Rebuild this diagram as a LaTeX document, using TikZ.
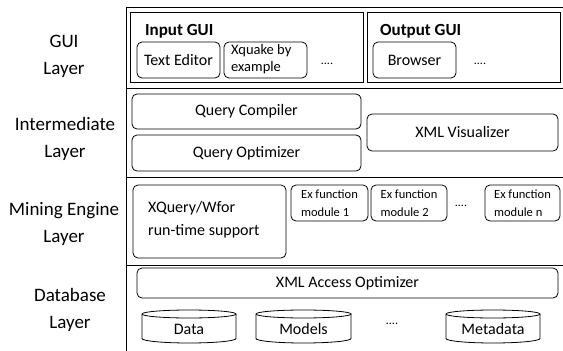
\documentclass[tikz,border=0pt]{standalone}
\usepackage{fontspec}
\setmainfont{Carlito}
\begin{document}
\begin{tikzpicture}[x=1pt,y=-1pt,
  rbox/.style={draw, rounded corners=5pt, line width=0.8pt, inner sep=2pt, font=\fontsize{16}{19}\selectfont},
  sbox/.style={draw, rounded corners=5pt, line width=0.8pt, inner sep=2pt, font=\fontsize{12.5}{18}\selectfont, align=left},
  gbox/.style={draw, line width=0.9pt},
  lyr/.style={font=\fontsize{19}{27}\selectfont, align=center},
  ttl/.style={anchor=west, inner sep=0pt, font=\bfseries\fontsize{17}{19}\selectfont},
  txt/.style={anchor=west, inner sep=0pt, align=left},
  dots/.style={font=\fontsize{12}{14}\selectfont},
  frame/.style={line width=0.9pt},
  cyl/.style={draw, line width=0.8pt}
]
\useasboundingbox (0,0) rectangle (563,351);
% frame
\draw[frame] (126,351) -- (126,7) -- (563,7);
\draw[frame] (126,88) -- (563,88);
\draw[frame] (126,177) -- (563,177);
\draw[frame] (126,265) -- (563,265);
% layer labels
\node[lyr] (lgui) at (64,56.5) {GUI\\Layer};
\node[lyr] (lint) at (65,138.5) {Intermediate\\Layer};
\node[lyr] (lmin) at (64,224) {Mining Engine\\Layer};
\node[lyr] (ldb) at (70,310) {Database\\Layer};
% GUI layer
\node[gbox, minimum width=233pt, minimum height=70pt] (ingui) at (246.5,47) {};
\node[gbox, minimum width=193pt, minimum height=70pt] (outgui) at (463.5,47) {};
\node[ttl] (tin) at (145,31) {Input GUI};
\node[ttl] (tout) at (380,31) {Output GUI};
\node[rbox, minimum width=83pt, minimum height=36pt] (texted) at (178.5,60) {Text Editor};
\node[rbox, minimum width=83pt, minimum height=36pt] (xquake) at (265.5,60) {};
\node[txt, font=\fontsize{14.5}{17}\selectfont] (xquaket) at (231,59.5) {Xquake by\\example};
\node[dots] (d1) at (327,64) {....};
\node[rbox, minimum width=83pt, minimum height=36pt] (browser) at (414.5,60) {Browser};
\node[dots] (d2) at (480,64) {....};
% Intermediate layer
\node[rbox, minimum width=229pt, minimum height=35pt] (qcomp) at (246.5,111.5) {Query Compiler};
\node[rbox, minimum width=229pt, minimum height=36pt] (qopt) at (246.5,153) {Query Optimizer};
\node[rbox, minimum width=191pt, minimum height=37pt] (xmlvis) at (462.5,132.5) {XML Visualizer};
% Mining engine layer
\node[rbox, minimum width=153pt, minimum height=73pt] (xq) at (209.5,221.5) {};
\node[txt, font=\fontsize{16}{23}\selectfont] (xqt) at (148,219.5) {XQuery/Wfor\\run-time support};
\node[sbox, minimum width=77pt, minimum height=36pt] (ex1) at (329.5,203) {Ex function\\module 1};
\node[sbox, minimum width=76pt, minimum height=36pt] (ex2) at (409,203) {Ex function\\module 2};
\node[dots] (d3) at (461,206) {....};
\node[sbox, minimum width=75pt, minimum height=36pt] (exn) at (522.5,203) {Ex function\\module n};
% Database layer
\node[rbox, minimum width=421pt, minimum height=30pt] (xacc) at (347.5,283) {XML Access Optimizer};
\foreach \nm/\xa/\xb/\lbl in {data/142/236/Data, models/256/351/Models, meta/446/540/Metadata}{
  \draw[cyl] (\xa,314) arc[start angle=180, end angle=-180, x radius={(\xb-\xa)/2}, y radius=4];
  \draw[cyl] (\xa,314) -- (\xa,338.5) arc[start angle=180, end angle=0, x radius={(\xb-\xa)/2}, y radius=4.5] -- (\xb,314);
  \node[font=\fontsize{16}{19}\selectfont] (\nm) at ({(\xa+\xb)/2},329) {\lbl};
}
\node[dots] (d4) at (392,324) {....};
\end{tikzpicture}
\end{document}
